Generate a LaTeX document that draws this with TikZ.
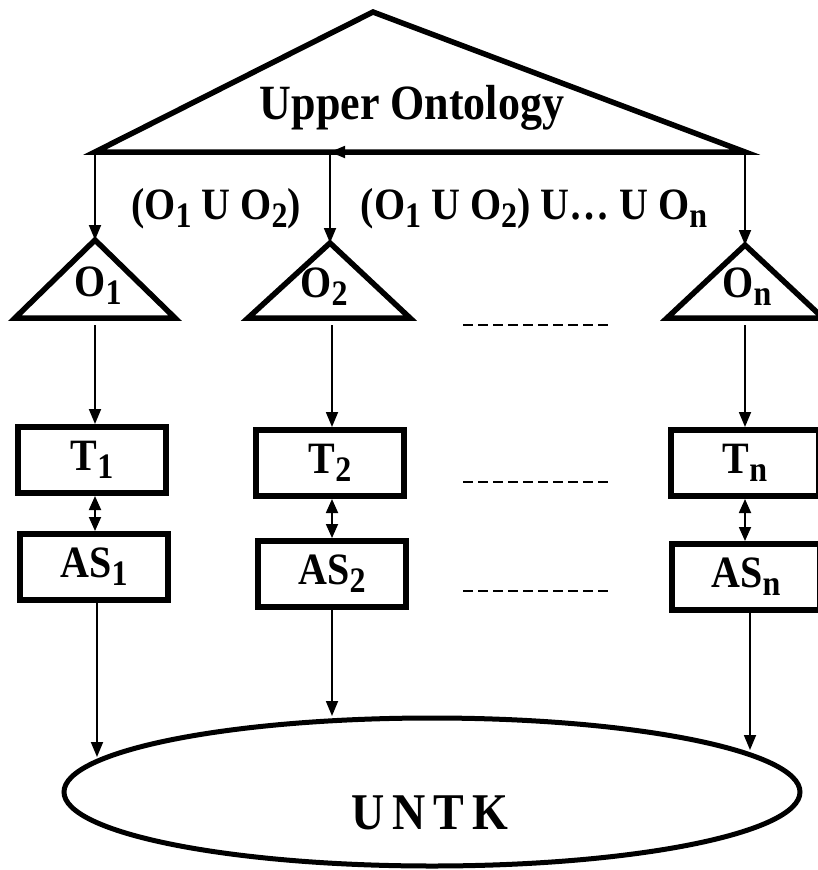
\documentclass[tikz,border=0pt]{standalone}
\usepackage{fontspec}
\setmainfont{Liberation Serif}
\usetikzlibrary{arrows.meta,shapes.geometric}
\newcommand{\idx}[1]{\raisebox{-0.18em}{\scalebox{0.8}{#1}}}
\newcommand{\tall}[1]{\scalebox{1}[1.12]{#1}}
\tikzset{
  heavy/.style={line width=5.5pt, line join=miter},
  box/.style={draw, line width=6pt, minimum width=148pt, minimum height=66pt,
    font=\bfseries\fontsize{40}{44}\selectfont},
  link/.style={line width=1.8pt, -{Triangle[length=15pt,width=12pt]}},
  dlink/.style={line width=1.8pt, {Triangle[length=14pt,width=12pt]}-{Triangle[length=14pt,width=12pt]}},
  lbl/.style={font=\bfseries\fontsize{40}{44}\selectfont, inner sep=0pt},
  gap/.style={line width=2pt, dash pattern=on 10pt off 5pt}
}
\begin{document}
\begin{tikzpicture}[x=1pt,y=-1pt]
  \useasboundingbox (0,0) rectangle (817,870);

  % upper ontology
  \coordinate (UA) at (373,12);
  \coordinate (UL) at (95,152);
  \coordinate (UR) at (745,152);
  \coordinate (J2) at (330,152);
  \draw[heavy] (UL) -- (UA) -- (UR) -- cycle;
  \node[lbl, font=\bfseries\fontsize{44}{48}\selectfont] (upper) at (412,108) {\tall{Upper Ontology}};

  % local ontologies
  \coordinate (A1) at (95,240);
  \coordinate (A2) at (330,243);
  \coordinate (A3) at (745,245);
  \draw[heavy] (A1) -- (175,318) -- (15,318) -- cycle;
  \draw[heavy] (A2) -- (410,318) -- (248,318) -- cycle;
  \draw[heavy] (A3) -- (823,318) -- (667,318) -- cycle;
  \node[lbl] (o1) at (98,286) {\tall{O\idx{1}}};
  \node[lbl] (o2) at (324,287) {\tall{O\idx{2}}};
  \node[lbl] (on) at (747,287) {\tall{O\idx{n}}};

  \draw[link] (UL) -- (A1);
  \draw[link] (J2) -- (A2);
  \draw[link] (UR) -- (A3);
  \draw[link] (UR) -- (J2);

  \node[lbl] (u12) at (216,209) {\tall{(O\idx{1} U O\idx{2})}};
  \node[lbl] (u1n) at (534,209) {\tall{(O\idx{1} U O\idx{2}) U\ldots{} U O\idx{n}}};

  % translators
  \node[box] (T1) at (92,460) {\tall{T\idx{1}}};
  \node[box] (T2) at (330,463) {\tall{T\idx{2}}};
  \node[box] (Tn) at (745,463) {\tall{T\idx{n}}};

  % annotation systems
  \node[box] (AS1) at (94,567) {\tall{AS\idx{1}}};
  \node[box] (AS2) at (332,574) {\tall{AS\idx{2}}};
  \node[box] (ASn) at (746,577) {\tall{AS\idx{n}}};

  \draw[link] (95,325) -- (T1.north -| 95,0);
  \draw[link] (332,325) -- (T2.north -| 332,0);
  \draw[link] (745,325) -- (Tn.north);
  \draw[dlink] (T1.south -| 95,0) -- (AS1.north -| 95,0);
  \draw[dlink] (T2.south -| 332,0) -- (AS2.north -| 332,0);
  \draw[dlink] (Tn.south) -- (ASn.north -| 745,0);

  \draw[gap] (463,325) -- (610,325);
  \draw[gap] (463,482) -- (610,482);
  \draw[gap] (463,591) -- (610,591);

  % common knowledge
  \node[ellipse, draw, line width=5pt, minimum width=736pt, minimum height=148pt] (ring) at (432,792) {};
  \node[font=\bfseries\fontsize{46}{50}\selectfont, inner sep=0pt] (untk) at (430,813) {\tall{U\hspace{8pt}N\hspace{8pt}T\hspace{8pt}K}};

  \coordinate (E1) at (97,757);
  \coordinate (E2) at (332,716);
  \coordinate (E3) at (750,750);
  \draw[link] (AS1.south -| E1) -- (E1);
  \draw[link] (AS2.south -| E2) -- (E2);
  \draw[link] (ASn.south -| E3) -- (E3);
\end{tikzpicture}
\end{document}
